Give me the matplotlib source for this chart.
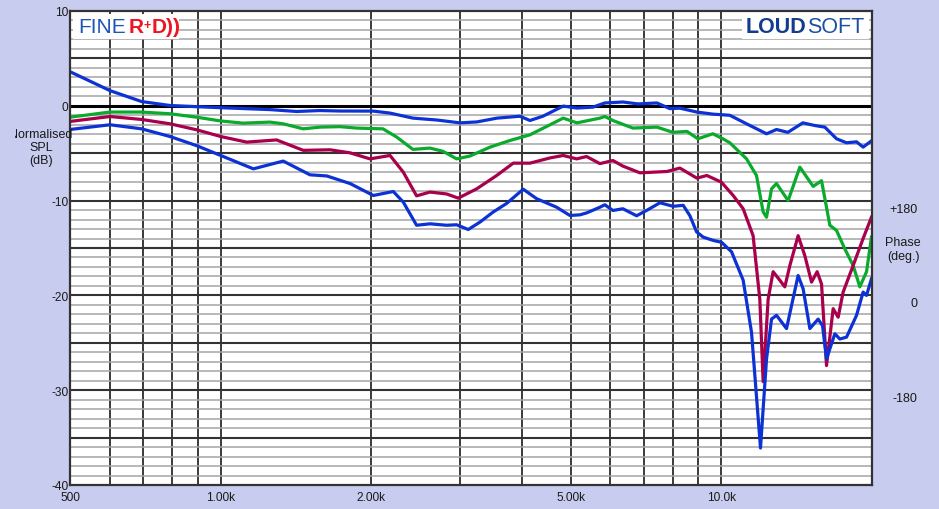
import matplotlib
matplotlib.use('Agg')
import matplotlib.pyplot as plt
import numpy as np
from matplotlib.transforms import Bbox
from matplotlib.patches import Rectangle

plt.rcParams['font.family'] = ['Liberation Sans', 'DejaVu Sans']

# ---------------- data (frequency in Hz, level in dB) ----------------
on_freq = [500, 601, 695, 792, 1000, 1254, 1418, 1579, 1731, 2018, 2179, 2421, 2704, 3006, 3250,
           3563, 3960, 4147, 4402, 4833, 5147, 5540, 5853, 6359, 6814, 7437, 7893, 8266, 8937, 9621,
           10400, 11232, 12313, 12891, 13580, 14549, 15377, 16098, 16991, 17790, 18627, 19200, 19950]
on_db = [3.6, 1.6, 0.45, 0.03, -0.2, -0.4, -0.6, -0.5, -0.55, -0.56, -0.77, -1.3, -1.5, -1.8, -1.7,
         -1.3, -1.1, -1.55, -1.1, -0.03, -0.24, -0.14, 0.3, 0.4, 0.2, 0.3, -0.3, -0.25, -0.66, -0.88,
         -1.0, -1.9, -2.95, -2.5, -2.8, -1.8, -2.08, -2.25, -3.48, -3.9, -3.8, -4.36, -3.7]

green_freq = [500, 601, 695, 792, 895, 1000, 1108, 1254, 1333, 1462, 1579, 1731, 1869, 2109, 2247,
              2421, 2618, 2780, 2960, 3147, 3451, 3783, 4147, 4478, 4833, 5147, 5721, 5853, 6073, 6659,
              7437, 8003, 8537, 8979, 9621, 10072, 10400, 11232, 11756, 12123, 12313, 12599, 12891, 13598, 14350,
              15257, 15857, 16474, 16991, 17652, 18340, 18911, 19503, 19950]
green_db = [-1.2, -0.66, -0.66, -0.84, -1.2, -1.6, -1.83, -1.72, -1.9, -2.43, -2.25, -2.2, -2.35, -2.43, -3.3,
            -4.6, -4.46, -4.8, -5.6, -5.3, -4.36, -3.66, -3.06, -2.18, -1.3, -1.8, -1.3, -1.13, -1.55, -2.35,
            -2.25, -2.8, -2.7, -3.48, -2.95, -3.48, -3.9, -5.6, -7.35, -11.2, -11.75, -8.76, -8.2, -10.0, -6.47,
            -8.5, -7.9, -12.6, -13.15, -15.1, -16.85, -19.1, -17.5, -13.85]

red_freq = [500, 601, 695, 792, 895, 1000, 1127, 1293, 1462, 1653, 1813, 1987, 2179, 2316, 2462,
            2618, 2827, 2982, 3246, 3559, 3841, 4147, 4547, 4833, 5140, 5381, 5721, 6073, 6359, 6877,
            7785, 8266, 8937, 9358, 10000, 10561, 11058, 11575, 11938, 12123, 12404, 12692, 13088, 13393, 13708,
            14238, 14683, 15145, 15540, 15857, 16225, 16727, 17117, 17514, 18340, 19200, 19950]
red_db = [-1.65, -1.13, -1.44, -1.9, -2.53, -3.24, -3.83, -3.6, -4.7, -4.64, -4.96, -5.6, -5.24, -7.0, -9.5,
          -9.1, -9.3, -9.74, -8.76, -7.35, -6.05, -6.05, -5.5, -5.24, -5.6, -5.35, -6.1, -5.77, -6.36, -7.07,
          -6.93, -6.57, -7.63, -7.35, -8.05, -9.46, -10.86, -13.7, -20.4, -29.1, -20.4, -17.5, -18.4, -19.1, -16.85,
          -13.7, -15.8, -18.6, -17.5, -18.8, -27.4, -21.4, -22.3, -19.65, -16.85, -14.0, -11.75]

blue_freq = [500, 601, 695, 792, 895, 1000, 1162, 1333, 1508, 1629, 1813, 2018, 2212, 2316, 2462,
             2618, 2827, 2960, 3122, 3295, 3503, 3725, 4021, 4277, 4689, 4984, 5219, 5381, 5721, 5853,
             6073, 6359, 6773, 7091, 7541, 8010, 8394, 8655, 8925, 9200, 9634, 10012, 10483, 11058, 11491,
             11975, 12313, 12599, 12891, 13498, 14238, 14569, 15027, 15611, 15930, 16225, 16858, 17249, 17790, 18627,
             19200, 19503, 19950]
blue_db = [-2.5, -2.0, -2.43, -3.24, -4.2, -5.24, -6.65, -5.83, -7.28, -7.4, -8.2, -9.46, -9.04, -10.16, -12.6,
           -12.45, -12.6, -12.55, -13.05, -12.27, -11.2, -10.3, -8.8, -9.8, -10.7, -11.57, -11.5, -11.3, -10.7, -10.44,
           -11.04, -10.86, -11.6, -11.04, -10.23, -10.6, -10.5, -11.6, -13.3, -13.85, -14.2, -14.4, -15.4, -18.4, -23.9,
           -36.1, -26.7, -22.5, -22.1, -23.5, -17.9, -19.3, -23.5, -22.5, -23.2, -26.7, -24.05, -24.6, -24.4, -22.1,
           -19.65, -20.0, -18.25]

x_ticks = [500, 1000, 2000, 5000, 10000]
x_tick_labels = ['500', '1.00k', '2.00k', '5.00k', '10.0k']
y_ticks = [-40, -30, -20, -10, 0, 10]
phase_ticks = [-180, 0, 180]
phase_tick_labels = ['-180', '0', '+180']

# ---------------- figure ----------------
W, H = 939, 510
fig = plt.figure(figsize=(W / 100, H / 100), dpi=100)
fig.patch.set_facecolor('#C8CCEE')
ax = fig.add_axes([70 / W, 24 / H, 802 / W, 474 / H])
ax.set_facecolor('white')
ax.set_xscale('log')
ax.set_xlim(500, 20000)
ax.set_ylim(-40, 10)

# grid
for e in (2, 3, 4):
    for m in range(1, 10):
        f = m * 10 ** e
        if 500 < f < 20000:
            ax.axvline(f, color='#3a3a3a', lw=1.4, zorder=1)
for v in range(-39, 10):
    if v % 5 == 0:
        continue
    ax.axhline(v, color='#a4a4a4', lw=1.1, zorder=1)
for v in range(-35, 10, 5):
    if v == 0:
        continue
    ax.axhline(v, color='#333333', lw=1.5, zorder=1.5)
ax.axhline(0, color='#000000', lw=2.2, zorder=1.6)

# curves
lw = 2.3
ax.plot(green_freq, green_db, color='#0AAA2C', lw=lw, zorder=3, solid_joinstyle='round')
ax.plot(red_freq, red_db, color='#A8004C', lw=lw, zorder=3, solid_joinstyle='round')
ax.plot(blue_freq, blue_db, color='#0C32D6', lw=lw, zorder=3, solid_joinstyle='round')
ax.plot(on_freq, on_db, color='#0C32D6', lw=lw, zorder=3, solid_joinstyle='round')

# ticks
ax.set_xticks(x_ticks)
ax.set_xticklabels(x_tick_labels)
ax.xaxis.set_minor_locator(matplotlib.ticker.NullLocator())
ax.set_yticks(y_ticks)
ax.set_yticklabels([str(v) for v in y_ticks])
ax.tick_params(axis='x', length=0, pad=4.5, labelsize=8.6, labelcolor='#1a1a1a')
ax.tick_params(axis='y', length=0, pad=1, labelsize=8.6, labelcolor='#1a1a1a')
for s in ax.spines.values():
    s.set_color('#333333')
    s.set_linewidth(1.6)
    s.set_zorder(4)

# phase axis
ax2 = ax.twinx()
ax2.set_ylim(-348.6, 554.3)
ax2.set_yticks(phase_ticks)
ax2.set_yticklabels(phase_tick_labels)
ax2.tick_params(axis='y', length=0, pad=33, labelsize=9, labelcolor='#1a1a1a')
for lab in ax2.get_yticklabels():
    lab.set_horizontalalignment('right')
for s in ax2.spines.values():
    s.set_visible(False)

# axis titles
t = fig.text(41 / W, 1 - 148 / H, 'Normalised\nSPL\n(dB)', ha='center', va='center',
             fontsize=9, color='#1a1a1a', linespacing=1.15, multialignment='center')
t.set_clip_box(Bbox([[14.5, 0], [W, H]]))
t.set_clip_on(True)
fig.text(903 / W, 1 - 250 / H, 'Phase\n(deg.)', ha='center', va='center',
         fontsize=9, color='#1a1a1a', linespacing=1.15, multialignment='center')

# logos
ax.add_patch(Rectangle(((73 - 70) / 802, (486 - 40) / 474), 106 / 802, 25 / 474,
                       transform=ax.transAxes, facecolor='white', edgecolor='none', zorder=2))
ax.add_patch(Rectangle(((742 - 70) / 802, (486 - 40) / 474), 127 / 802, 25 / 474,
                       transform=ax.transAxes, facecolor='white', edgecolor='none', zorder=2))
t1 = ax.text((78 - 70) / 802, (486 - 27.5) / 474, 'FINE', transform=ax.transAxes,
             fontsize=15, color='#1D56B2', ha='left', va='center', zorder=5)
t2 = ax.annotate('R', xy=(1, 0), xycoords=t1, xytext=(2, 0), textcoords='offset points',
                 fontsize=15, fontweight='bold', color='#EE1422', ha='left', va='bottom', zorder=5)
t3 = ax.annotate('+', xy=(1, 0.25), xycoords=t2, xytext=(0, 0), textcoords='offset points',
                 fontsize=9, fontweight='bold', color='#EE1422', ha='left', va='bottom', zorder=5)
ax.annotate('D))', xy=(1, 0), xycoords=t2, xytext=(6, 0), textcoords='offset points',
            fontsize=15, fontweight='bold', color='#EE1422', ha='left', va='bottom', zorder=5)
t4 = ax.text((746 - 70) / 802, (486 - 28) / 474, 'LOUD', transform=ax.transAxes,
             fontsize=15.5, fontweight='bold', color='#123C8C', ha='left', va='center', zorder=5)
ax.annotate('SOFT', xy=(1, 0), xycoords=t4, xytext=(0, 0), textcoords='offset points',
            fontsize=15.5, color='#1B4FA6', ha='left', va='bottom', zorder=5)

fig.savefig('out.png', dpi=100, facecolor=fig.get_facecolor())
